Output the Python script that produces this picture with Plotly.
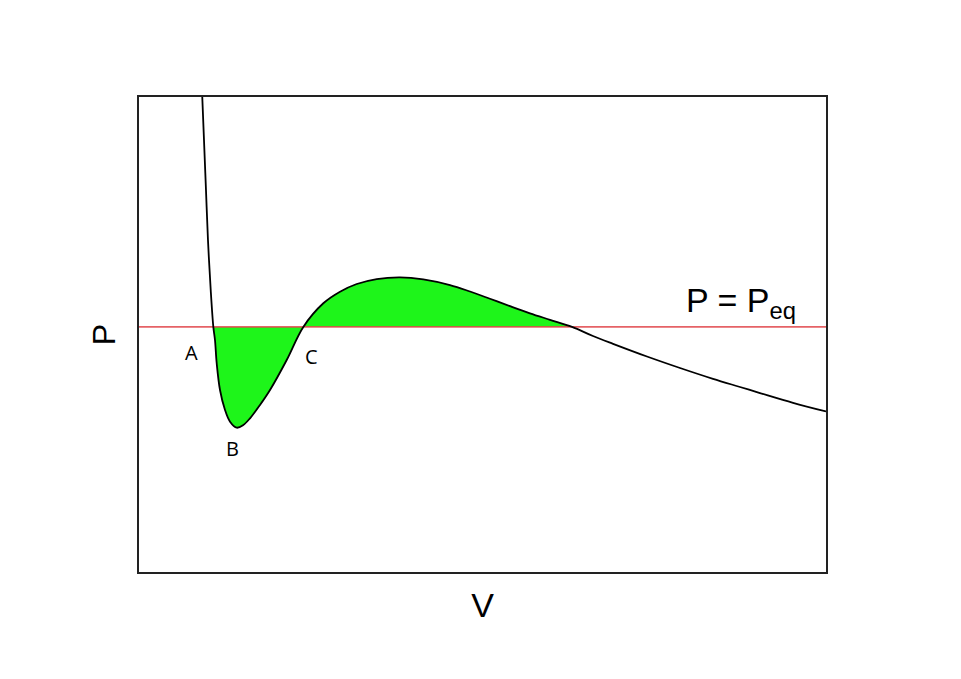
import plotly.graph_objects as go

# Isotherm (arbitrary units, V: 0-10, P: 0-10)
V = [0.921, 0.946, 0.975, 1.004, 1.044, 1.082, 1.106, 1.131, 1.179, 1.252, 1.325,
     1.422, 1.518, 1.616, 1.761, 1.907, 2.150, 2.392, 2.683, 2.926, 3.169, 3.460,
     3.799, 4.138, 4.527, 4.818, 5.109, 5.400, 5.691, 5.983, 6.303, 6.608, 6.900,
     7.394, 7.875, 8.355, 8.748, 9.039, 9.520, 10.0]
P = [10.0, 9.095, 8.042, 6.989, 5.937, 5.16, 4.884, 4.394, 3.832, 3.411, 3.164,
     3.038, 3.095, 3.236, 3.516, 3.832, 4.463, 5.16, 5.657, 5.901, 6.063, 6.168,
     6.204, 6.162, 6.042, 5.905, 5.752, 5.596, 5.446, 5.309, 5.16, 4.968, 4.804,
     4.537, 4.295, 4.067, 3.895, 3.768, 3.562, 3.379]
P_EQ = 5.16
A_IDX, D_IDX = 5, 30  # indices of the first and last crossing with P_eq

point_labels = ["A", "B", "C"]
label_V = [0.771, 1.368, 2.518]
label_P = [4.63, 2.59, 4.53]

fig = go.Figure()

# green area between the curve and P = P_eq
fig.add_trace(go.Scatter(
    x=V[A_IDX:D_IDX + 1], y=P[A_IDX:D_IDX + 1], mode="lines",
    line=dict(width=0, shape="spline", smoothing=1.0),
    fill="toself", fillcolor="#1ef51a", hoverinfo="skip", showlegend=False))

# P = P_eq line
fig.add_trace(go.Scatter(
    x=[0, 10], y=[P_EQ, P_EQ], mode="lines",
    line=dict(color="rgba(225,70,75,0.85)", width=1.6), showlegend=False))

# isotherm
fig.add_trace(go.Scatter(
    x=V, y=P, mode="lines",
    line=dict(color="black", width=1.8, shape="spline", smoothing=1.0),
    showlegend=False))

for t, xv, yv in zip(point_labels, label_V, label_P):
    fig.add_annotation(x=xv, y=yv, text=t, showarrow=False,
                       font=dict(family="Open Sans", size=20, color="black"))

fig.add_annotation(x=8.76, y=5.68, text="P = P<sub>eq</sub>", showarrow=False,
                   font=dict(family="Liberation Sans", size=34, color="black"))

axis_common = dict(showgrid=False, zeroline=False, showticklabels=False, ticks="",
                   showline=True, linecolor="#222", linewidth=1.6, mirror=True)
fig.update_xaxes(range=[0, 10], title=dict(text="V", standoff=20,
                 font=dict(family="Liberation Sans", size=34, color="black")), **axis_common)
fig.update_yaxes(range=[0, 10], title=dict(text="P", standoff=12,
                 font=dict(family="Liberation Sans", size=32, color="black")), **axis_common)

# page body adds an 8px offset; margins compensate so the frame sits at 139..826 x 97..572
fig.update_layout(width=945, height=663, plot_bgcolor="white", paper_bgcolor="white",
                  margin=dict(l=131, r=127, t=89, b=99))

fig.write_html("out.html")
